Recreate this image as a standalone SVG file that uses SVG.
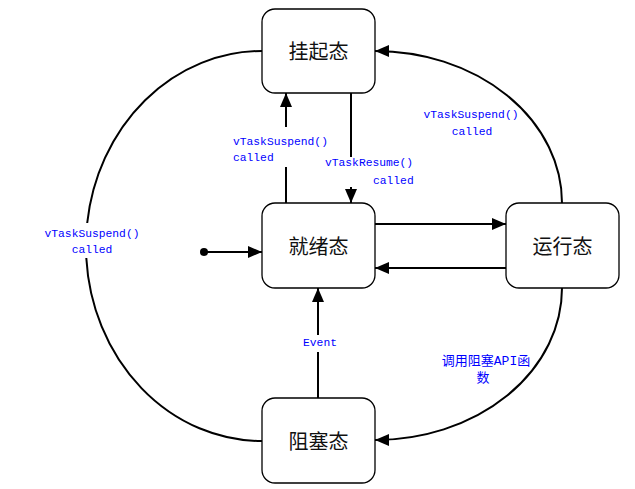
<svg xmlns="http://www.w3.org/2000/svg" width="635" height="489" viewBox="0 0 635 489">
<style>
.node rect{fill:#fff;stroke:#000;stroke-width:1.3}
.node text{font-family:"Noto Sans CJK SC","Liberation Sans",sans-serif;font-size:20px;fill:#111;text-anchor:middle;dominant-baseline:central}
.edge{fill:none;stroke:#000;stroke-width:2}
.lbl{font-family:"Liberation Mono","Noto Sans CJK SC",monospace;font-size:11.3px;fill:#0000ff}
</style>
<defs>
<marker id="arr" markerUnits="userSpaceOnUse" markerWidth="14" markerHeight="12" refX="14" refY="6" orient="auto">
<path d="M0,0 L14,6 L0,12 z" fill="#000"/>
</marker>
</defs>
<g id="connectors">
<path class="edge" d="M262,51 A176,195 0 0 0 87.2,223"/>
<path class="edge" d="M86.3,258 A176,195 0 0 0 262,441"/>
<path class="edge" d="M562,203 A187,152 0 0 0 375,51" marker-end="url(#arr)"/>
<path class="edge" d="M562,288 A187,152 0 0 1 375,440" marker-end="url(#arr)"/>
<path class="edge" d="M286,127 L286,93" marker-end="url(#arr)"/>
<path class="edge" d="M286,167 L286,203"/>
<path class="edge" d="M351,93 L351,157"/>
<path class="edge" d="M351,187 L351,203" marker-end="url(#arr)"/>
<path class="edge" d="M375,224 L506,224" marker-end="url(#arr)"/>
<path class="edge" d="M506,268 L375,268" marker-end="url(#arr)"/>
<circle cx="204" cy="252" r="4" fill="#000"/>
<path class="edge" d="M204,252 L262,252" marker-end="url(#arr)"/>
<path class="edge" d="M318,335 L318,288" marker-end="url(#arr)"/>
<path class="edge" d="M318,352 L318,398"/>
</g>
<g id="labels">
<text class="lbl" x="233" y="145">vTaskSuspend()</text>
<text class="lbl" x="233" y="161">called</text>
<text class="lbl" x="325" y="166">vTaskResume()</text>
<text class="lbl" x="373" y="184">called</text>
<text class="lbl" x="92" y="237" text-anchor="middle">vTaskSuspend()</text>
<text class="lbl" x="92" y="253" text-anchor="middle">called</text>
<text class="lbl" x="471" y="118" text-anchor="middle">vTaskSuspend()</text>
<text class="lbl" x="472" y="135" text-anchor="middle">called</text>
<text class="lbl" x="320" y="346" text-anchor="middle">Event</text>
<text class="lbl" x="486" y="365" text-anchor="middle" style="font-size:13px">调用阻塞API函</text>
<text class="lbl" x="483" y="382" text-anchor="middle" style="font-size:13px">数</text>
</g>
<g id="suspended" class="node"><rect x="262" y="9" width="113" height="84" rx="13"/><text x="318.5" y="50">挂起态</text></g>
<g id="ready" class="node"><rect x="262" y="203" width="113" height="85" rx="13"/><text x="318.5" y="245">就绪态</text></g>
<g id="running" class="node"><rect x="506" y="203" width="113" height="85" rx="13"/><text x="562.5" y="245">运行态</text></g>
<g id="blocked" class="node"><rect x="262" y="398" width="113" height="85" rx="13"/><text x="318.5" y="440">阻塞态</text></g>
</svg>
